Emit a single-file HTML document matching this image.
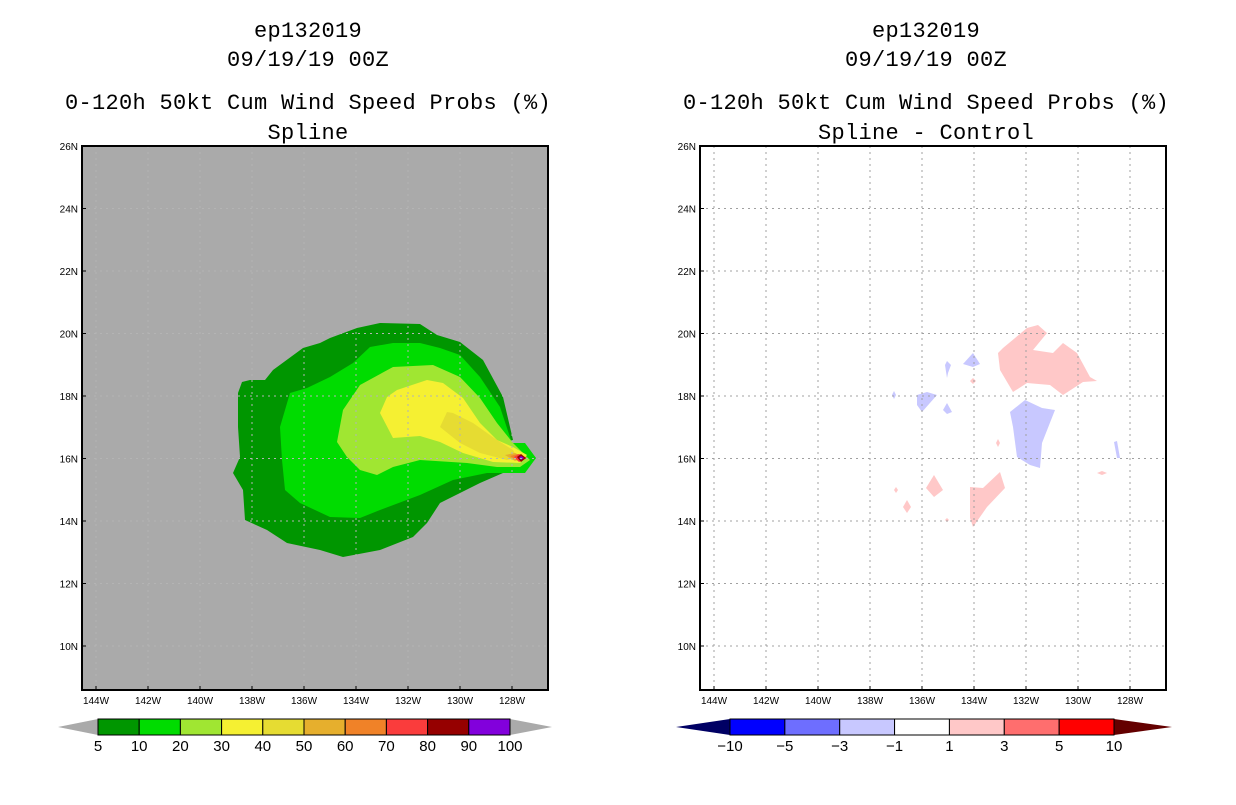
<!DOCTYPE html>
<html><head><meta charset="utf-8">
<style>
body{margin:0;background:#fff;width:1236px;height:800px;overflow:hidden;font-family:"Liberation Sans",sans-serif}
svg text{font-family:"Liberation Sans",sans-serif}
svg .ttl text{font-family:"Liberation Mono",monospace}
</style></head>
<body>
<svg id="s" width="1236" height="800" xmlns="http://www.w3.org/2000/svg">
<g class="ttl" font-size="22" letter-spacing="0.3" text-anchor="middle" fill="#000">
<text x="308" y="37">ep132019</text><text x="308" y="66">09/19/19 00Z</text>
<text x="308" y="109">0-120h 50kt Cum Wind Speed Probs (%)</text><text x="308" y="139">Spline</text></g>
<g class="ttl" font-size="22" letter-spacing="0.3" text-anchor="middle" fill="#000">
<text x="926" y="37">ep132019</text><text x="926" y="66">09/19/19 00Z</text>
<text x="926" y="109">0-120h 50kt Cum Wind Speed Probs (%)</text><text x="926" y="139">Spline - Control</text></g>
<g id="L"></g>
<g id="R"></g>
</svg>
<script>
const lonTicks=[144,142,140,138,136,134,132,130,128];
const latTicks=[26,24,22,20,18,16,14,12,10];
const probLevels=["5","10","20","30","40","50","60","70","80","90","100"];
const probColors=["#009600","#00dc00","#a0e632","#f5f032","#e6dc32","#e6af2d","#f08228","#fa3c3c","#960000","#8200dc"];
const diffLevels=["-10","-5","-3","-1","1","3","5","10"];
const diffColors=["#0000ff","#6e6eff","#c8c8ff","#ffffff","#ffc8c8","#ff6e6e","#ff0000"];
const probContours=[
 [0,[[250,380],[265,380],[273,370],[303,348],[320,343],[330,338],[357,328],[380,323],[420,324],[437,335],[460,342],[483,360],[503,397],[513,440],[510,443],[536,458],[523,473],[503,473],[480,483],[460,493],[440,503],[427,523],[413,537],[380,550],[343,557],[320,550],[287,543],[267,530],[245,520],[243,490],[233,473],[240,457],[238,427],[238,393],[242,382]]],
 [1,[[280,427],[290,393],[307,388],[330,377],[353,363],[370,347],[393,343],[420,343],[440,348],[460,355],[480,377],[500,407],[512,443],[525,443],[536,458],[525,473],[487,473],[453,480],[420,495],[380,510],[360,518],[330,517],[300,503],[285,490],[282,460]]],
 [2,[[337,442],[343,410],[360,385],[393,367],[433,365],[460,377],[480,398],[497,423],[513,443],[523,453],[530,460],[520,467],[497,467],[467,463],[420,460],[393,467],[377,475],[360,470],[347,457]]],
 [3,[[380,413],[387,397],[397,390],[427,380],[443,383],[463,398],[480,423],[497,440],[513,447],[527,455],[520,463],[493,462],[463,453],[440,442],[420,436],[393,438]]],
 [4,[[440,427],[447,412],[453,413],[473,423],[497,440],[513,450],[517,457],[507,460],[480,453],[460,443]]],
 [5,[[505,455],[515,453],[524,457],[515,461]]],
 [6,[[510,456],[518,454],[525,458],[518,461]]],
 [7,[[514,457],[519,454],[527,458],[519,462]]],
 [8,[[517,457],[521,454],[526,458],[521,462]]],
 [9,[[519,458],[521,456],[524,458],[521,460]]]
];
const diffContours=[
 [4,[[998,353],[1003,348],[1027,328],[1038,325],[1047,333],[1033,350],[1053,353],[1063,343],[1077,353],[1090,377],[1097,381],[1083,382],[1063,395],[1050,385],[1027,383],[1013,392],[1000,370]]],
 [2,[[1010,412],[1025,400],[1042,408],[1055,410],[1042,443],[1040,468],[1030,465],[1017,457],[1013,427]]],
 [4,[[970,487],[983,488],[1000,472],[1005,488],[987,507],[973,527],[970,518]]],
 [4,[[926,488],[934,475],[943,490],[934,497]]],
 [2,[[963,364],[973,353],[980,364],[973,367]]],
 [2,[[917,395],[927,392],[937,395],[922,412],[917,405]]],
 [2,[[943,410],[947,403],[952,412],[947,414]]],
 [2,[[945,365],[947,361],[951,365],[948,373],[947,378]]],
 [2,[[892,395],[894,391],[896,395],[894,399]]],
 [2,[[1114,442],[1117,441],[1120,458],[1117,458]]],
 [4,[[996,443],[998,439],[1000,443],[998,447]]],
 [4,[[970,381],[973,378],[976,381],[973,384]]],
 [4,[[1097,473],[1102,471],[1107,473],[1102,475]]],
 [4,[[903,507],[907,500],[911,507],[907,513]]],
 [4,[[894,490],[896,487],[898,490],[896,493]]],
 [4,[[945,520],[947,518],[949,520],[947,522]]]
];
const NS="http://www.w3.org/2000/svg";
function mk(p,t,a){const e=document.createElementNS(NS,t);for(const k in a)e.setAttribute(k,a[k]);p.appendChild(e);return e;}
const topY=146,botY=690,W=466;
function yS(lat){return topY+(26-lat)*31.25;}
function panel(g,x0,bg){
 const xS=lon=>x0+14+(144-lon)*26;
 const bgR=mk(g,'rect',{x:x0,y:topY,width:W,height:botY-topY,fill:bg});
 
 
 return xS;
}
function drawGrid(g,x0,xS,col){
 lonTicks.forEach(l=>{const x=xS(l);
  const ln=mk(g,'line',{x1:x,y1:topY,x2:x,y2:botY,stroke:col,'stroke-width':1,'stroke-dasharray':'2,4'});
  
  
  const t=mk(g,'text',{x:x,y:botY+14,'font-size':10,'text-anchor':'middle'});t.textContent=l+'W';
  
  
  mk(g,'line',{x1:x,y1:botY,x2:x,y2:botY-4,stroke:'#000'});});
 latTicks.forEach(l=>{const y=yS(l);
  if(l<26){const ln=mk(g,'line',{x1:x0,y1:y,x2:x0+W,y2:y,stroke:col,'stroke-width':1,'stroke-dasharray':'2,4'});
  
  }
  const t=mk(g,'text',{x:x0-4,y:y+4,'font-size':10,'text-anchor':'end'});t.textContent=l+'N';
  
  
  mk(g,'line',{x1:x0,y1:y,x2:x0+4,y2:y,stroke:'#000'});});
 const f=mk(g,'rect',{x:x0,y:topY,width:W,height:botY-topY,fill:'none',stroke:'#000','stroke-width':2});
 
 
}
function colorbar(g,x0,x1,tl,tr,cols,labs,leftCol,rightCol,name){
 const y=719,h=16,n=cols.length,w=(x1-x0)/n;
 const a=mk(g,'polygon',{points:`${tl},${y+h/2} ${x0},${y} ${x0},${y+h}`,fill:leftCol});
 
 
 const b=mk(g,'polygon',{points:`${tr},${y+h/2} ${x1},${y} ${x1},${y+h}`,fill:rightCol});
 
 
 cols.forEach((c,i)=>{const r=mk(g,'rect',{x:x0+i*w,y:y,width:w,height:h,fill:c,stroke:'#000','stroke-width':1});
  
  });
 labs.forEach((s,i)=>{const t=mk(g,'text',{x:x0+i*w,y:y+h+16,'font-size':15,'text-anchor':'middle'});t.textContent=s.replace('-','\u2212');
  
  });
}
const L=document.getElementById('L'),R=document.getElementById('R');
const xL=panel(L,82,'#aaaaaa');
probContours.forEach(([ci,pts])=>{const p=mk(L,'polygon',{points:pts.map(q=>q.join(',')).join(' '),fill:probColors[ci]});
 
 });
drawGrid(L,82,xL,'#b4b4b4');
colorbar(L,98,510,58,552,probColors,probLevels,'#aaaaaa','#aaaaaa','prob-colorbar');
const xR=panel(R,700,'#ffffff');
diffContours.forEach(([ci,pts])=>{const p=mk(R,'polygon',{points:pts.map(q=>q.join(',')).join(' '),fill:diffColors[ci]});
 
 });
drawGrid(R,700,xR,'#a0a0a0');
colorbar(R,730,1114,676,1172,diffColors,diffLevels,'#000064','#640000','diff-colorbar');
</script>
</body></html>
